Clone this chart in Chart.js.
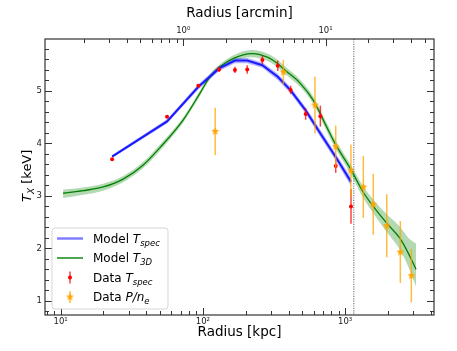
<!DOCTYPE html>
<html>
<head>
<meta charset="utf-8">
<script src="https://cdn.jsdelivr.net/npm/chart.js@4"></script>
<style>
  body { margin: 0; background: #fff; }
  #wrap { width: 457px; height: 351px; position: relative; }
</style>
</head>
<body>
<div id="wrap"><canvas id="tx"></canvas></div>
<script>
// radius in kpc, temperature in keV
const radiusSpec = [23, 56, 93, 130, 168, 205, 262, 336, 414, 528, 670, 859, 1100];
const tSpec      = [3.70, 4.51, 5.10, 5.41, 5.40, 5.41, 5.59, 5.48, 5.02, 4.56, 4.52, 3.57, 2.80];
const tSpecErr   = [0.02, 0.03, 0.03, 0.05, 0.06, 0.08, 0.08, 0.10, 0.08, 0.11, 0.20, 0.13, 0.33];

const modelSpec  = [3.75, 4.42, 5.08, 5.43, 5.58, 5.58, 5.49, 5.27, 5.01, 4.63, 4.19, 3.74, 3.27];
const modelSpecErr = [0.03, 0.04, 0.05, 0.05, 0.05, 0.05, 0.05, 0.06, 0.06, 0.06, 0.07, 0.07, 0.08];

const radiusPne = [122, 368, 614, 859, 1099, 1343, 1578, 1963, 2445, 2923];
const tPne      = [4.23, 5.36, 4.73, 3.94, 3.48, 3.17, 2.84, 2.43, 1.93, 1.48];
const tPneErr   = [0.45, 0.23, 0.54, 0.40, 0.50, 0.59, 0.58, 0.60, 0.59, 0.51];

const radiusModel = [10.4, 14.4, 19.9, 27.5, 38.1, 49.9, 72.8, 95.5, 112, 132, 164, 220, 252,
                     313, 388, 482, 598, 743, 849, 1099, 1342, 1578, 1962, 2433, 2781, 3152];
const t3d     = [3.05, 3.10, 3.17, 3.32, 3.59, 3.92, 4.45, 4.96, 5.27, 5.46, 5.62, 5.71, 5.69,
                 5.58, 5.37, 5.15, 4.82, 4.31, 4.00, 3.50, 3.07, 2.80, 2.48, 2.19, 1.91, 1.60];
const t3dHi   = [3.12, 3.16, 3.23, 3.38, 3.65, 3.98, 4.50, 5.01, 5.32, 5.51, 5.68, 5.78, 5.76,
                 5.65, 5.44, 5.22, 4.89, 4.39, 4.08, 3.59, 3.18, 2.93, 2.65, 2.41, 2.20, 2.09];
const t3dLo   = [2.96, 3.02, 3.10, 3.26, 3.53, 3.86, 4.40, 4.91, 5.22, 5.41, 5.56, 5.64, 5.62,
                 5.51, 5.30, 5.08, 4.75, 4.23, 3.92, 3.41, 2.96, 2.67, 2.31, 1.97, 1.65, 1.27];

const kpcPerArcmin = 72.8;
const rMin = 7.76, rMax = 4217;
const tMin = 0.73, tMax = 5.99;
const rLimit = 1150;

const FONT = "'DejaVu Sans', sans-serif";
const SUP = ['⁰', '¹', '²', '³', '⁴'];

function isDecade(v) {
  const l = Math.log10(v);
  return Math.abs(l - Math.round(l)) < 1e-6;
}
function decadeLabel(v) {
  return isDecade(v) ? '10' + SUP[Math.round(Math.log10(v))] : '';
}
const pts = (xs, ys) => xs.map((x, i) => ({ x: x, y: ys[i] }));

function makeStar(r, color) {
  const c = document.createElement('canvas');
  const s = Math.ceil(r * 2 + 2);
  c.width = s; c.height = s;
  const g = c.getContext('2d');
  g.fillStyle = color;
  g.beginPath();
  for (let i = 0; i < 10; i++) {
    const a = -Math.PI / 2 + i * Math.PI / 5;
    const rr = i % 2 ? r * 0.42 : r;
    g.lineTo(s / 2 + rr * Math.cos(a), s / 2 + rr * Math.sin(a));
  }
  g.closePath();
  g.fill();
  return c;
}
const star = makeStar(4.2, '#ffa500');

// text with italic / subscript pieces
function drawRich(ctx, x, y, parts) {
  parts.forEach(p => {
    ctx.font = p.f + ' ' + FONT;
    ctx.fillText(p.t, x, y + (p.dy || 0));
    x += ctx.measureText(p.t).width;
  });
}

function logTicks(min, max) {
  const out = [];
  for (let e = Math.floor(Math.log10(min)); e <= Math.ceil(Math.log10(max)); e++) {
    for (let m = 1; m < 10; m++) {
      const v = m * Math.pow(10, e);
      if (v > min && v < max) out.push({ v: v, major: m === 1 });
    }
  }
  return out;
}

function errorBars(chart, xs, ys, es, color) {
  const ctx = chart.ctx, sx = chart.scales.x, sy = chart.scales.y;
  ctx.save();
  ctx.strokeStyle = color;
  ctx.lineWidth = 1.5;
  xs.forEach((r, i) => {
    const px = sx.getPixelForValue(r);
    ctx.beginPath();
    ctx.moveTo(px, sy.getPixelForValue(ys[i] - es[i]));
    ctx.lineTo(px, sy.getPixelForValue(ys[i] + es[i]));
    ctx.stroke();
  });
  ctx.restore();
}

const decor = {
  id: 'decor',
  beforeDatasetsDraw(chart) {
    const ctx = chart.ctx, a = chart.chartArea;
    const px = chart.scales.x.getPixelForValue(rLimit);
    ctx.save();
    ctx.strokeStyle = '#888';
    ctx.lineWidth = 1.3;
    ctx.setLineDash([1.2, 1.2]);
    ctx.beginPath();
    ctx.moveTo(px, a.top);
    ctx.lineTo(px, a.bottom);
    ctx.stroke();
    ctx.restore();
  },
  beforeDatasetDraw(chart, args) {
    if (args.index === 1) errorBars(chart, radiusSpec, tSpec, tSpecErr, 'rgba(255,0,0,0.75)');
    if (args.index === 0) errorBars(chart, radiusPne, tPne, tPneErr, 'rgba(255,165,0,0.75)');
  },
  afterDraw(chart) {
    const ctx = chart.ctx, a = chart.chartArea;
    const sx = chart.scales.x, sx2 = chart.scales.x2, sy = chart.scales.y;
    ctx.save();
    // frame and inward ticks
    ctx.strokeStyle = '#333';
    ctx.lineWidth = 1.2;
    ctx.strokeRect(a.left, a.top, a.right - a.left, a.bottom - a.top);
    ctx.lineWidth = 1;
    ctx.beginPath();
    logTicks(rMin, rMax).forEach(t => {
      const px = Math.round(sx.getPixelForValue(t.v)) + 0.5;
      ctx.moveTo(px, a.bottom);
      ctx.lineTo(px, a.bottom - (t.major ? 7 : 4));
    });
    logTicks(rMin / kpcPerArcmin, rMax / kpcPerArcmin).forEach(t => {
      const px = Math.round(sx2.getPixelForValue(t.v)) + 0.5;
      ctx.moveTo(px, a.top);
      ctx.lineTo(px, a.top + (t.major ? 7 : 4));
    });
    for (let k = Math.ceil(tMin / 0.2); k <= Math.floor(tMax / 0.2); k++) {
      const v = k * 0.2;
      const major = k % 5 === 0;
      const py = Math.round(sy.getPixelForValue(v)) + 0.5;
      ctx.moveTo(a.left, py);
      ctx.lineTo(a.left + (major ? 7 : 4), py);
      ctx.moveTo(a.right, py);
      ctx.lineTo(a.right - (major ? 7 : 4), py);
    }
    ctx.stroke();

    // y axis title
    ctx.fillStyle = '#000';
    ctx.textBaseline = 'alphabetic';
    ctx.save();
    ctx.translate(31, 202);
    ctx.rotate(-Math.PI / 2);
    drawRich(ctx, 0, 0, [
      { t: 'T', f: 'italic 13px' },
      { t: 'X', f: 'italic 9px', dy: 3 },
      { t: ' [keV]', f: '13px' }
    ]);
    ctx.restore();

    // legend
    const x0 = a.left + 7, y0 = a.bottom - 87, w = 116, h = 81, r = 3;
    ctx.beginPath();
    ctx.moveTo(x0 + r, y0);
    ctx.arcTo(x0 + w, y0, x0 + w, y0 + h, r);
    ctx.arcTo(x0 + w, y0 + h, x0, y0 + h, r);
    ctx.arcTo(x0, y0 + h, x0, y0, r);
    ctx.arcTo(x0, y0, x0 + w, y0, r);
    ctx.closePath();
    ctx.fillStyle = 'rgba(255,255,255,0.8)';
    ctx.fill();
    ctx.strokeStyle = 'rgba(204,204,204,0.8)';
    ctx.lineWidth = 1;
    ctx.stroke();

    const rows = [y0 + 10.5, y0 + 30, y0 + 49.5, y0 + 69];
    const hx0 = x0 + 5, hx1 = x0 + 31, hc = x0 + 18, tx = x0 + 41;
    ctx.lineWidth = 2.5;
    ctx.strokeStyle = 'rgba(0,0,255,0.5)';
    ctx.beginPath(); ctx.moveTo(hx0, rows[0]); ctx.lineTo(hx1, rows[0]); ctx.stroke();
    ctx.lineWidth = 1.4;
    ctx.strokeStyle = 'green';
    ctx.beginPath(); ctx.moveTo(hx0, rows[1]); ctx.lineTo(hx1, rows[1]); ctx.stroke();
    ctx.lineWidth = 1.5;
    ctx.strokeStyle = 'rgba(255,0,0,0.75)';
    ctx.beginPath(); ctx.moveTo(hc, rows[2] - 6); ctx.lineTo(hc, rows[2] + 6); ctx.stroke();
    ctx.fillStyle = 'red';
    ctx.beginPath(); ctx.arc(hc, rows[2], 2, 0, Math.PI * 2); ctx.fill();
    ctx.strokeStyle = 'rgba(255,165,0,0.75)';
    ctx.beginPath(); ctx.moveTo(hc, rows[3] - 6); ctx.lineTo(hc, rows[3] + 6); ctx.stroke();
    ctx.drawImage(star, hc - star.width / 2, rows[3] - star.height / 2);

    ctx.fillStyle = '#000';
    const b = 4.3;
    drawRich(ctx, tx, rows[0] + b, [{ t: 'Model ', f: '12px' }, { t: 'T', f: 'italic 12px' }, { t: 'spec', f: 'italic 8.5px', dy: 3 }]);
    drawRich(ctx, tx, rows[1] + b, [{ t: 'Model ', f: '12px' }, { t: 'T', f: 'italic 12px' }, { t: '3D', f: 'italic 8.5px', dy: 3 }]);
    drawRich(ctx, tx, rows[2] + b, [{ t: 'Data ', f: '12px' }, { t: 'T', f: 'italic 12px' }, { t: 'spec', f: 'italic 8.5px', dy: 3 }]);
    drawRich(ctx, tx, rows[3] + b, [{ t: 'Data ', f: '12px' }, { t: 'P/n', f: 'italic 12px' }, { t: 'e', f: 'italic 8.5px', dy: 3 }]);
    ctx.restore();
  }
};

const noGrid = { display: false, drawTicks: false };
const tickFont = { family: FONT, size: 8.5 };

new Chart(document.getElementById('tx'), {
  type: 'line',
  data: {
    datasets: [
      { label: 'Data P/n_e', data: pts(radiusPne, tPne), showLine: false,
        pointStyle: star, pointRadius: 4, borderColor: '#ffa500', backgroundColor: '#ffa500' },
      { label: 'Data T_spec', data: pts(radiusSpec, tSpec), showLine: false,
        pointRadius: 2, pointBorderWidth: 0, borderColor: 'red', backgroundColor: 'red' },
      { label: 'Model T_spec', data: pts(radiusSpec, modelSpec),
        borderColor: '#1a1aff', borderWidth: 2, pointRadius: 0, tension: 0 },
      { label: 'Model T_3D', data: pts(radiusModel, t3d),
        borderColor: 'green', borderWidth: 1.3, pointRadius: 0, cubicInterpolationMode: 'monotone' },
      { label: 'spec hi', data: pts(radiusSpec, modelSpec.map((v, i) => v + modelSpecErr[i])),
        fill: '+1', backgroundColor: 'rgba(0,0,255,0.3)', borderColor: 'transparent', pointRadius: 0 },
      { label: 'spec lo', data: pts(radiusSpec, modelSpec.map((v, i) => v - modelSpecErr[i])),
        fill: false, borderColor: 'transparent', pointRadius: 0 },
      { label: '3D hi', data: pts(radiusModel, t3dHi), fill: '+1', backgroundColor: 'rgba(0,128,0,0.3)',
        borderColor: 'transparent', pointRadius: 0, cubicInterpolationMode: 'monotone' },
      { label: '3D lo', data: pts(radiusModel, t3dLo), fill: false,
        borderColor: 'transparent', pointRadius: 0, cubicInterpolationMode: 'monotone' }
    ]
  },
  options: {
    responsive: true,
    maintainAspectRatio: false,
    animation: false,
    events: [],
    layout: { padding: { left: 0, right: 23, top: 0, bottom: 0 } },
    plugins: { legend: { display: false }, tooltip: { enabled: false } },
    scales: {
      x: {
        type: 'logarithmic', position: 'bottom', min: rMin, max: rMax,
        grid: noGrid, border: { display: false },
        ticks: { autoSkip: false, maxRotation: 0, minRotation: 0, padding: 2, color: '#222',
                 font: tickFont, callback: v => decadeLabel(v) },
        title: { display: true, text: 'Radius [kpc]', color: '#000',
                 font: { family: FONT, size: 13.5 }, padding: { top: 0, bottom: 10 } },
        afterFit: s => { s.height = 36; }
      },
      x2: {
        type: 'logarithmic', position: 'top', min: rMin / kpcPerArcmin, max: rMax / kpcPerArcmin,
        grid: noGrid, border: { display: false },
        ticks: { autoSkip: false, maxRotation: 0, minRotation: 0, padding: 3, color: '#222',
                 font: tickFont, callback: v => decadeLabel(v) },
        title: { display: true, text: 'Radius [arcmin]', color: '#000',
                 font: { family: FONT, size: 13.5 }, padding: { top: 5.5, bottom: 0 } },
        afterFit: s => { s.height = 39; }
      },
      y: {
        type: 'linear', position: 'left', min: tMin, max: tMax,
        grid: noGrid, border: { display: false },
        ticks: { stepSize: 0.2, includeBounds: false, autoSkip: false, padding: 3, color: '#222',
                 font: tickFont,
                 callback: v => Math.abs(v - Math.round(v)) < 1e-6 ? String(Math.round(v)) : '' },
        afterFit: s => { s.width = 45; }
      }
    }
  },
  plugins: [decor]
});
</script>
</body>
</html>
